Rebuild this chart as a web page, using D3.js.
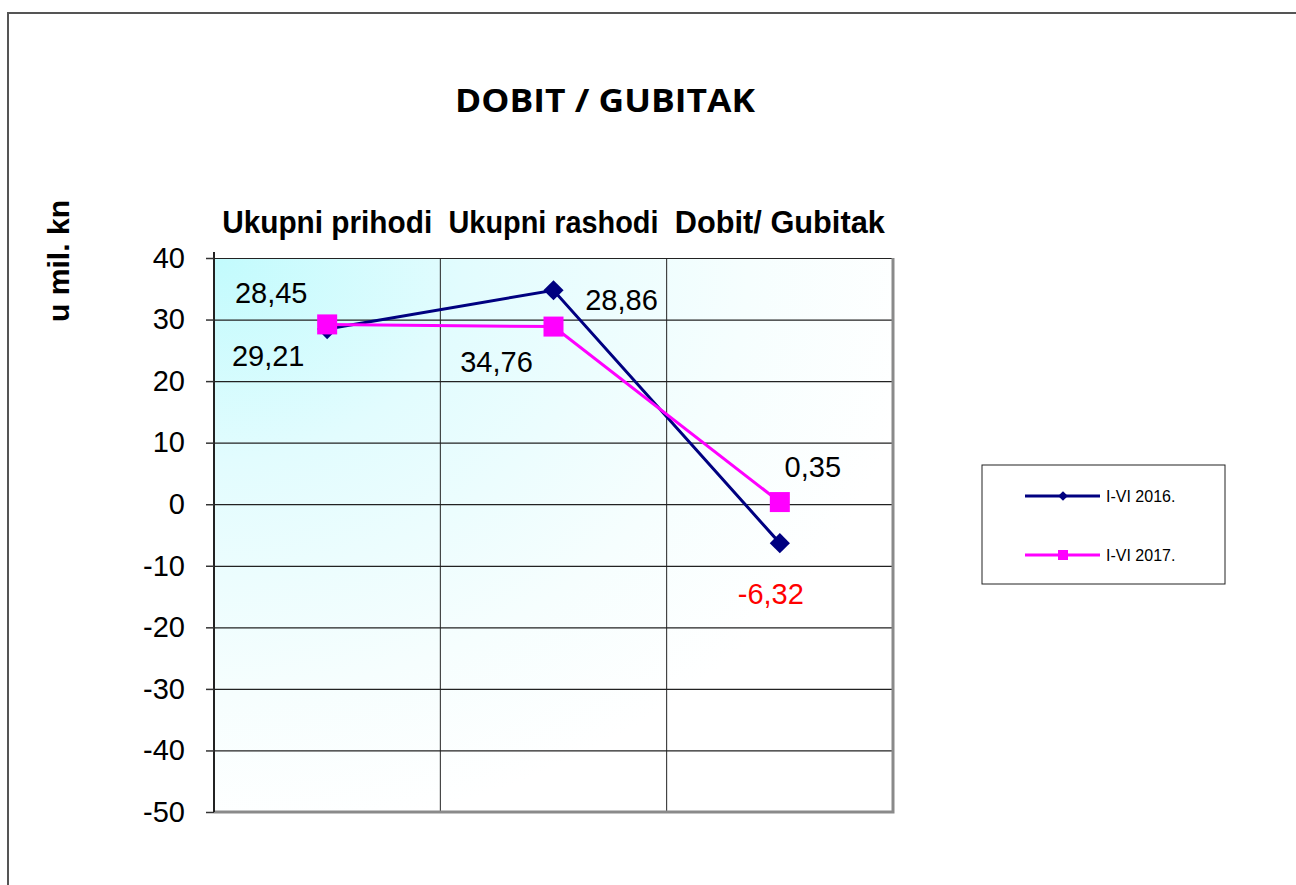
<!DOCTYPE html>
<html>
<head>
<meta charset="utf-8">
<script src="https://cdn.jsdelivr.net/npm/d3@7"></script>
<style>
 body{margin:0;background:#fff;}
 svg{display:block;}
 text{font-family:"Liberation Sans",Arial,sans-serif;}
</style>
</head>
<body>
<div id="chartDiv"></div>
<script>
//Chart values
var categories = ["Ukupni prihodi", "Ukupni rashodi", "Dobit/ Gubitak"];
var seriesNames = ["I-VI 2016.", "I-VI 2017."];
var values2016 = [28.45, 34.76, -6.32];
var values2017 = [29.21, 28.86, 0.35];
var yTicks = [-50, -40, -30, -20, -10, 0, 10, 20, 30, 40];
var chartTitle = "DOBIT / GUBITAK";
var yTitle = "u mil. kn";

//Label offsets (from point) as placed in the original
var labelOffsets2016 = [[-56,-26],[-57,82],[-9,61]];
var labelOffsets2017 = [[-59,42],[68,-17],[33,-25]];

var W = 1296, H = 885;
var plot = {left: 214, right: 893, top: 258, bottom: 812};

var svg = d3.select("#chartDiv").append("svg")
 .attr("width", W).attr("height", H);

svg.append("rect")			//Outer chart frame
 .attr("x", 8).attr("y", 13)
 .attr("width", W).attr("height", H)
 .attr("fill", "white")
 .attr("stroke", "#555").attr("stroke-width", 2);

var xScale = d3.scaleBand().domain(categories).range([plot.left, plot.right]);
var yScale = d3.scaleLinear().domain([d3.min(yTicks), d3.max(yTicks)]).range([plot.bottom, plot.top]);
var cx = function(i){ return xScale(categories[i]) + xScale.bandwidth()/2; };

var defs = svg.append("defs");
var grad = defs.append("radialGradient").attr("id", "plotGrad")
 .attr("cx", "0").attr("cy", "0").attr("r", "1.05").attr("fx", "0").attr("fy", "0");
grad.append("stop").attr("offset", "0%").attr("stop-color", "#c2fbfd");
grad.append("stop").attr("offset", "35%").attr("stop-color", "#e2fcfe");
grad.append("stop").attr("offset", "75%").attr("stop-color", "#f6fefe");
grad.append("stop").attr("offset", "100%").attr("stop-color", "#ffffff");

svg.append("rect")			//Plot area background
 .attr("x", plot.left).attr("y", plot.top)
 .attr("width", plot.right - plot.left)
 .attr("height", plot.bottom - plot.top)
 .attr("fill", "url(#plotGrad)");

//Horizontal gridlines
svg.append("g")
 .attr("transform", "translate(" + plot.left + ",0)")
 .call(d3.axisLeft(yScale).tickValues(yTicks)
   .tickSize(-(plot.right - plot.left)).tickFormat(""))
 .call(function(g){
   g.select(".domain").remove();
   g.selectAll("line").attr("stroke", "#222").attr("stroke-width", 1.2);
 });

//Vertical gridlines at category borders
svg.append("g")
 .selectAll("line")
 .data(categories.slice(1))
 .enter().append("line")
 .attr("x1", function(d){ return xScale(d); })
 .attr("x2", function(d){ return xScale(d); })
 .attr("y1", plot.top).attr("y2", plot.bottom)
 .attr("stroke", "#222").attr("stroke-width", 1);

//Plot area border (grey shadow right & bottom)
svg.append("path")
 .attr("d", "M" + plot.right + "," + plot.top + "V" + plot.bottom + "H" + plot.left)
 .attr("fill", "none").attr("stroke", "#8a8a8a").attr("stroke-width", 3);

//Y axis with ticks and labels
var yAxis = svg.append("g")
 .attr("transform", "translate(" + plot.left + ",0)")
 .call(d3.axisLeft(yScale).tickValues(yTicks).tickSize(8).tickPadding(21)
   .tickFormat(function(d){ return d; }));
yAxis.select(".domain")
 .attr("d", "M0," + (plot.top - 6) + "V" + plot.bottom)
 .attr("stroke", "#222").attr("stroke-width", 2);
yAxis.selectAll(".tick line").attr("stroke", "#333").attr("stroke-width", 1.5);
yAxis.selectAll(".tick text")
 .style("font-size", "29px")
 .style("font-family", "'Liberation Sans', Arial, sans-serif")
 .attr("fill", "#000");

//Category labels on top
svg.append("g")
 .selectAll("text")
 .data(categories)
 .enter().append("text")
 .attr("x", function(d, i){ return cx(i); })
 .attr("y", 233)
 .attr("text-anchor", "middle")
 .style("font-size", "31px")
 .style("font-weight", "bold")
 .attr("textLength", function(d){ return d.length > 14 ? 221 : 210; })
 .attr("lengthAdjust", "spacingAndGlyphs")
 .text(function(d){ return d; });

//Title
svg.append("text")
 .attr("x", 605).attr("y", 112)
 .attr("text-anchor", "middle")
 .style("font-family", "'Open Sans', sans-serif")
 .style("font-size", "33px")
 .style("font-weight", "bold")
 .attr("textLength", 300)
 .attr("lengthAdjust", "spacingAndGlyphs")
 .text(chartTitle);

//Y axis title
svg.append("text")
 .attr("transform", "translate(69,261) rotate(-90)")
 .attr("text-anchor", "middle")
 .style("font-size", "30px")
 .style("font-weight", "bold")
 .attr("textLength", 122)
 .attr("lengthAdjust", "spacingAndGlyphs")
 .text(yTitle);

var line = d3.line()
 .x(function(d, i){ return cx(i); })
 .y(function(d){ return yScale(d); });

//Series 2016
svg.append("path")
 .datum(values2016)
 .attr("d", line)
 .attr("fill", "none").attr("stroke", "#000080").attr("stroke-width", 3);
svg.selectAll(".dot16")
 .data(values2016)
 .enter().append("path")
 .attr("class", "dot16")
 .attr("transform", function(d, i){ return "translate(" + cx(i) + "," + yScale(d) + ")"; })
 .attr("d", d3.symbol(d3.symbolDiamond2, 260))
 .attr("fill", "#000080");

//Series 2017
svg.append("path")
 .datum(values2017)
 .attr("d", line)
 .attr("fill", "none").attr("stroke", "#ff00ff").attr("stroke-width", 3);
svg.selectAll(".dot17")
 .data(values2017)
 .enter().append("rect")
 .attr("class", "dot17")
 .attr("x", function(d, i){ return cx(i) - 10; })
 .attr("y", function(d){ return yScale(d) - 10; })
 .attr("width", 20).attr("height", 20)
 .attr("fill", "#ff00ff");

//Data labels
function fmt(v){ return String(v.toFixed(2)).replace(".", ","); }
function addLabels(vals, offs){
 svg.append("g")
  .selectAll("text")
  .data(vals)
  .enter().append("text")
  .attr("x", function(d, i){ return cx(i) + offs[i][0]; })
  .attr("y", function(d, i){ return yScale(d) + offs[i][1]; })
  .attr("text-anchor", "middle")
  .style("font-size", "29px")
  .attr("fill", function(d){ return d < 0 ? "#ff0000" : "#000"; })
  .text(fmt);
}
addLabels(values2016, labelOffsets2016);
addLabels(values2017, labelOffsets2017);

//Legend
var legend = svg.append("g");
legend.append("rect")
 .attr("x", 982).attr("y", 465).attr("width", 243).attr("height", 119)
 .attr("fill", "white").attr("stroke", "#222").attr("stroke-width", 1);
var colors = ["#000080", "#ff00ff"];
seriesNames.forEach(function(name, i){
 var ly = 496 + i * 59;
 legend.append("line")
  .attr("x1", 1025).attr("x2", 1100).attr("y1", ly).attr("y2", ly)
  .attr("stroke", colors[i]).attr("stroke-width", 3);
 if(i === 0){
  legend.append("path")
   .attr("transform", "translate(1063," + ly + ")")
   .attr("d", d3.symbol(d3.symbolDiamond2, 60))
   .attr("fill", colors[i]);
 } else {
  legend.append("rect")
   .attr("x", 1058).attr("y", ly - 5).attr("width", 10).attr("height", 10)
   .attr("fill", colors[i]);
 }
 legend.append("text")
  .attr("x", 1106).attr("y", ly + 6)
  .style("font-size", "16px")
  .text(name);
});
</script>
</body>
</html>
